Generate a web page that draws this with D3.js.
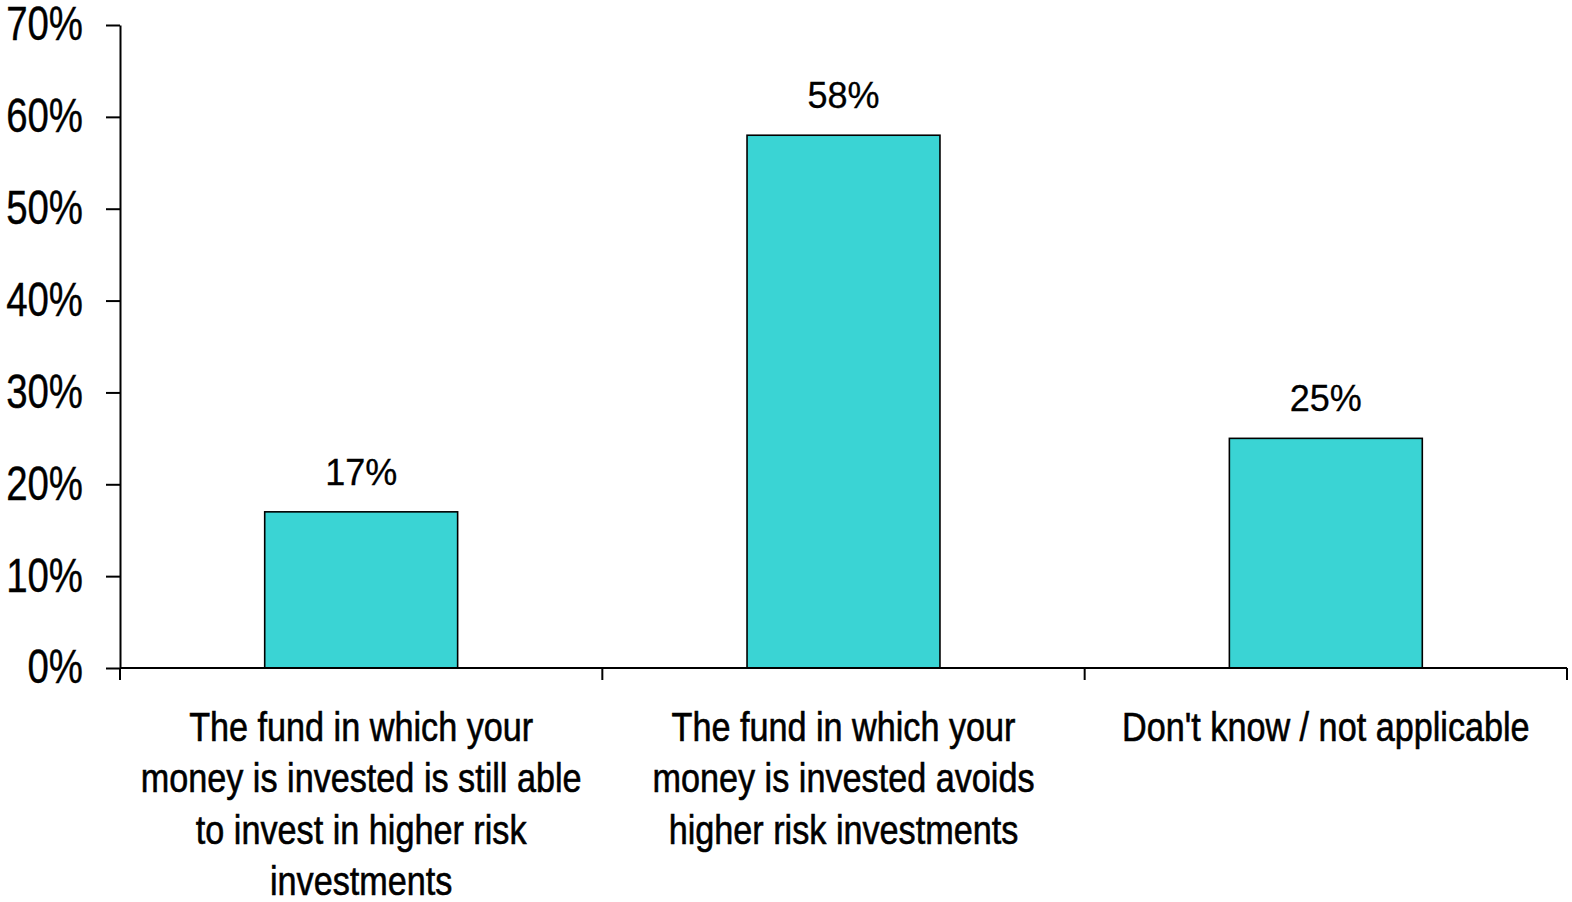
<!DOCTYPE html>
<html>
<head>
<meta charset="utf-8">
<script src="https://cdn.jsdelivr.net/npm/d3@7"></script>
<style>
  html, body { margin: 0; padding: 0; background: #fff; }
  svg { display: block; font-family: "Liberation Sans", Arial, sans-serif; }
</style>
</head>
<body>
<svg id="chart" width="1572" height="902"></svg>
<script>
// Survey responses: where the respondent's money is invested
const categories = [
  "The fund in which your\nmoney is invested is still able\nto invest in higher risk\ninvestments",
  "The fund in which your\nmoney is invested avoids\nhigher risk investments",
  "Don't know / not applicable"
];
const values = [17, 58, 25];
const yTicks = [0, 10, 20, 30, 40, 50, 60, 70];

const svg = d3.select("#chart");
const plot = { left: 120, right: 1567, top: 25, bottom: 668 };

const x = d3.scaleBand()
  .domain(categories)
  .range([plot.left, plot.right])
  .padding(0);

const y = d3.scaleLinear()
  .domain([0, 70])
  .range([plot.bottom, plot.top]);

const barWidth = x.bandwidth() * 0.4;

// Bars
svg.append("g")
  .selectAll("rect")
  .data(values)
  .join("rect")
  .attr("x", (d, i) => x(categories[i]) + (x.bandwidth() - barWidth) / 2)
  .attr("y", d => y(d))
  .attr("width", barWidth)
  .attr("height", d => y(0) - y(d))
  .attr("fill", "#3ad4d4")
  .attr("stroke", "#000")
  .attr("stroke-width", 1.6);

// Value labels above bars
svg.append("g")
  .selectAll("text")
  .data(values)
  .join("text")
  .attr("x", (d, i) => x(categories[i]) + x.bandwidth() / 2)
  .attr("y", d => y(d) - 27)
  .attr("text-anchor", "middle")
  .attr("font-size", 36)
  .attr("fill", "#000")
  .attr("stroke", "#000")
  .attr("stroke-width", 0.3)
  .text(d => d + "%");

// Y axis
const yAxis = svg.append("g")
  .attr("transform", `translate(${plot.left},0)`)
  .call(d3.axisLeft(y).tickValues(yTicks).tickSize(14).tickSizeOuter(0).tickFormat(d => d + "%"));
yAxis.select(".domain").attr("stroke", "#000").attr("stroke-width", 2);
yAxis.selectAll(".tick line").attr("stroke", "#000").attr("stroke-width", 2);
yAxis.selectAll(".tick text")
  .attr("x", 0)
  .attr("dy", "0.31em")
  .attr("transform", "translate(-37,0) scale(0.8,1)")
  .attr("text-anchor", "end")
  .attr("font-size", 48)
  .attr("font-family", "Liberation Sans, Arial, sans-serif")
  .attr("fill", "#000")
  .attr("stroke", "#000")
  .attr("stroke-width", 0.4);

// X axis: category boundaries marked with ticks below the baseline
const xAxis = svg.append("g");
xAxis.append("line")
  .attr("x1", plot.left).attr("x2", plot.right)
  .attr("y1", y(0)).attr("y2", y(0))
  .attr("stroke", "#000").attr("stroke-width", 2);
const bounds = categories.map(c => x(c)).concat([x(categories[categories.length - 1]) + x.bandwidth()]);
xAxis.selectAll("line.bound")
  .data(bounds)
  .join("line")
  .attr("class", "bound")
  .attr("x1", d => d).attr("x2", d => d)
  .attr("y1", y(0)).attr("y2", y(0) + 12)
  .attr("stroke", "#000").attr("stroke-width", 2);

// Category labels, condensed, wrapped on explicit breaks
const catG = svg.append("g")
  .selectAll("g")
  .data(categories)
  .join("g")
  .attr("transform", d => `translate(${x(d) + x.bandwidth() / 2},741) scale(0.855,1)`);
catG.each(function (d) {
  const lines = d.split("\n");
  d3.select(this).selectAll("text")
    .data(lines)
    .join("text")
    .attr("x", 0)
    .attr("y", (l, i) => i * 51.4)
    .attr("text-anchor", "middle")
    .attr("font-size", 40)
    .attr("fill", "#000")
    .attr("stroke", "#000")
    .attr("stroke-width", 0.6)
    .text(l => l);
});
</script>
</body>
</html>
